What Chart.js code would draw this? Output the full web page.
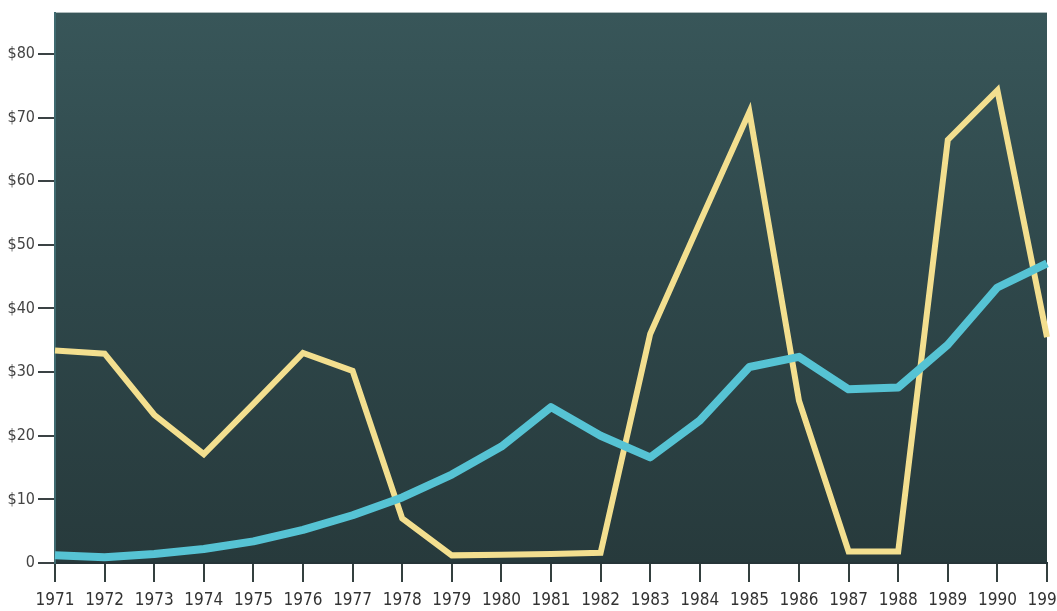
<!DOCTYPE html>
<html>
<head>
<meta charset="utf-8">
<script src="https://cdn.jsdelivr.net/npm/chart.js@4/dist/chart.umd.min.js"></script>
<style>
  html, body { margin: 0; padding: 0; background: #ffffff; }
  #wrap { width: 1057px; height: 611px; position: relative; }
</style>
</head>
<body>
<div id="wrap"><canvas id="chart"></canvas></div>
<script>
// Anos (eixo x)
const years = ['1971', '1972', '1973', '1974', '1975', '1976', '1977', '1978', '1979', '1980',
               '1981', '1982', '1983', '1984', '1985', '1986', '1987', '1988', '1989', '1990', '1991'];

// Série amarela (oscilante)
const yellowValues = [33.4, 32.9, 23.3, 17.1, 25.0, 33.0, 30.2, 7.0, 1.2, 1.3,
                      1.4, 1.6, 36.0, 53.5, 70.9, 25.5, 1.8, 1.8, 66.5, 74.3, 35.5];

// Série azul (crescente)
const cyanValues = [1.2, 0.9, 1.4, 2.2, 3.4, 5.2, 7.5, 10.3, 13.9, 18.3,
                    24.5, 20.0, 16.6, 22.4, 30.8, 32.4, 27.3, 27.6, 34.3, 43.3, 47.1];

// Marcas do eixo y
const yTickValues = [0, 10, 20, 30, 40, 50, 60, 70, 80];

const labelFont = "'Liberation Sans Narrow', 'Arial Narrow', 'DejaVu Sans Condensed', sans-serif";

// Fundo do gráfico em degradê
const plotBackground = {
    id: 'plotBackground',
    beforeDraw(chart) {
        const { ctx, chartArea } = chart;
        const g = ctx.createLinearGradient(0, chartArea.top, 0, chartArea.bottom);
        g.addColorStop(0, '#385659');
        g.addColorStop(0.45, '#2f484b');
        g.addColorStop(1, '#273a3c');
        ctx.save();
        ctx.fillStyle = g;
        ctx.fillRect(chartArea.left, chartArea.top, chartArea.right - chartArea.left, chartArea.bottom - chartArea.top);
        ctx.restore();
    }
};

const ctx = document.getElementById('chart').getContext('2d');
new Chart(ctx, {
    type: 'line',
    data: {
        labels: years,
        datasets: [{
            data: cyanValues,
            borderColor: '#56c3d4',
            borderWidth: 8,
            pointRadius: 0,
            tension: 0,
            borderJoinStyle: 'round'
        },
        {
            data: yellowValues,
            borderColor: '#f3df8f',
            borderWidth: 6,
            pointRadius: 0,
            tension: 0,
            borderJoinStyle: 'miter'
        }]
    },
    options: {
        responsive: true,
        maintainAspectRatio: false,
        animation: false,
        layout: { padding: { top: 10, right: 10, left: 0, bottom: 0 } },
        plugins: {
            legend: { display: false },
            tooltip: { enabled: false }
        },
        scales: {
            x: {
                type: 'category',
                offset: false,
                grid: {
                    display: true,
                    drawOnChartArea: false,
                    offset: false,
                    tickLength: 19,
                    color: '#34403f',
                    lineWidth: 2
                },
                border: { display: true, color: '#263538', width: 2 },
                ticks: {
                    color: '#333333',
                    font: { family: labelFont, size: 17 },
                    padding: 8,
                    maxRotation: 0,
                    autoSkip: false
                },
                afterFit(scale) {
                    scale.height = 48;
                    scale.paddingLeft = 0;
                    scale.paddingRight = 0;
                }
            },
            y: {
                min: 0,
                max: 86.5,
                grid: {
                    display: true,
                    drawOnChartArea: false,
                    tickLength: 17,
                    color: '#3a4244',
                    lineWidth: 2
                },
                border: { display: true, color: '#3f6a70', width: 2 },
                ticks: {
                    color: '#444444',
                    font: { family: labelFont, size: 16 },
                    padding: 3,
                    callback: (v) => v === 0 ? '0' : '$' + v
                },
                afterBuildTicks(scale) {
                    scale.ticks = yTickValues.map(v => ({ value: v }));
                },
                afterFit(scale) {
                    scale.width = 55;
                }
            }
        }
    },
    plugins: [plotBackground]
});
</script>
</body>
</html>
